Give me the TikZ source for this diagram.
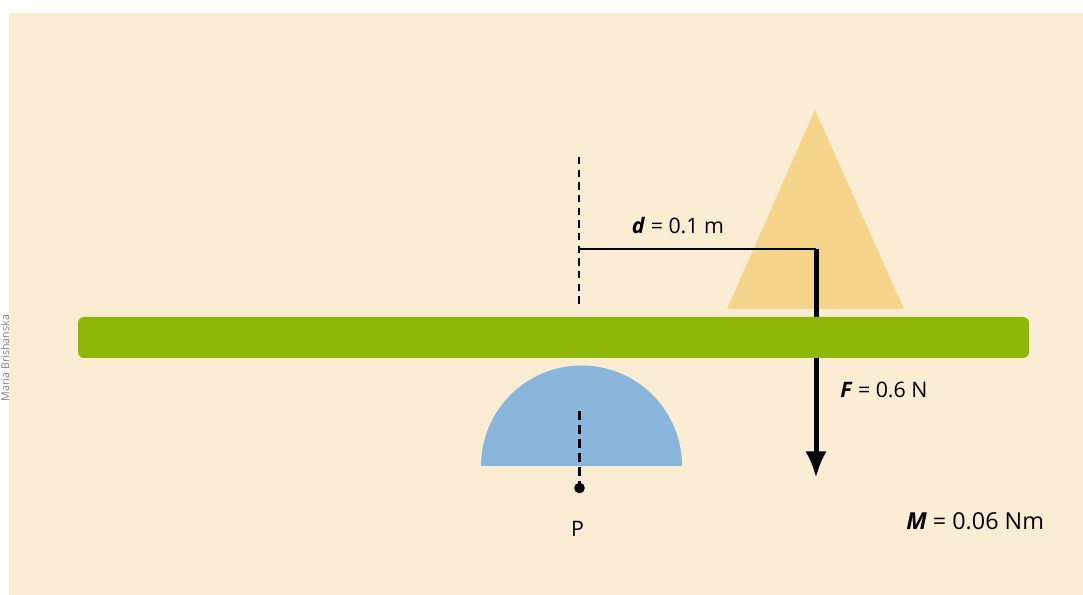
\documentclass[tikz,border=0pt]{standalone}
\usepackage{fontspec}
\setmainfont{Open Sans}
\usepackage{tikz}
\usetikzlibrary{arrows.meta}
\definecolor{bgbeige}{HTML}{FBEDD4}
\definecolor{bargreen}{HTML}{8DB80A}
\definecolor{loadyellow}{HTML}{F5D48B}
\definecolor{pivotblue}{HTML}{8AB6DC}
\tikzset{
	lbl/.style={inner sep=0pt,font=\fontsize{16}{19}\selectfont},
	dashline/.style={line width=2pt,dash pattern=on 5.5pt off 4pt},
}

\begin{document}
\begin{tikzpicture}[x=0.75pt,y=-0.75pt]
		\useasboundingbox (0,0) rectangle (1083,595);
		% Background
		\fill[bgbeige] (9,13) rectangle (1083,595);
		\node[rotate=90,anchor=north,inner sep=0.5pt,text=gray,font=\fontsize{8}{9}\selectfont] (credit) at (0,358) {Maria Brishanska};
		% Coordinates
		\coordinate (Dtop) at (579,157);
		\coordinate (Dbot) at (579,304);
		\coordinate (Dmid) at (579,249);
		\coordinate (F0) at (816,249);
		\coordinate (F1) at (816,478);
		\coordinate (Ptop) at (579.5,411);
		\coordinate (P) at (579.5,488);
		% Load on the bar
		\fill[loadyellow] (815,110) -- (904,309) -- (727,309) -- cycle;
		% Lever arm d
		\draw[dashline] (Dtop) -- (Dbot);
		\draw[line width=1pt] (Dmid) -- (F0);
		\node[lbl,anchor=base] (dlabel) at (678,234) {\textbf{\textit{d}} = 0.1 m};
		% Force F
		\draw[line width=3.75pt,-{Latex[length=20pt,width=16pt]}] (F0) -- (F1);
		\node[lbl,anchor=base west] (Flabel) at (840,398) {\textbf{\textit{F}} = 0.6 N};
		% Bar
		\fill[bargreen,rounded corners=4.5pt] (78,317) rectangle (1029,358);
		% Pivot
		\fill[pivotblue] (481,466) arc (180:360:100.5) -- cycle;
		\draw[dashline,dash pattern=on 6.5pt off 4pt] (Ptop) -- (P);
		\fill (P) circle (4pt);
		\node[lbl,anchor=base] (Plabel) at (577.5,537) {P};
		% Moment
		\node[lbl,anchor=base west,font=\fontsize{17.5}{20}\selectfont] (Mlabel) at (906,529) {\textbf{\textit{M}} = 0.06 Nm};
	\end{tikzpicture}
\end{document}
